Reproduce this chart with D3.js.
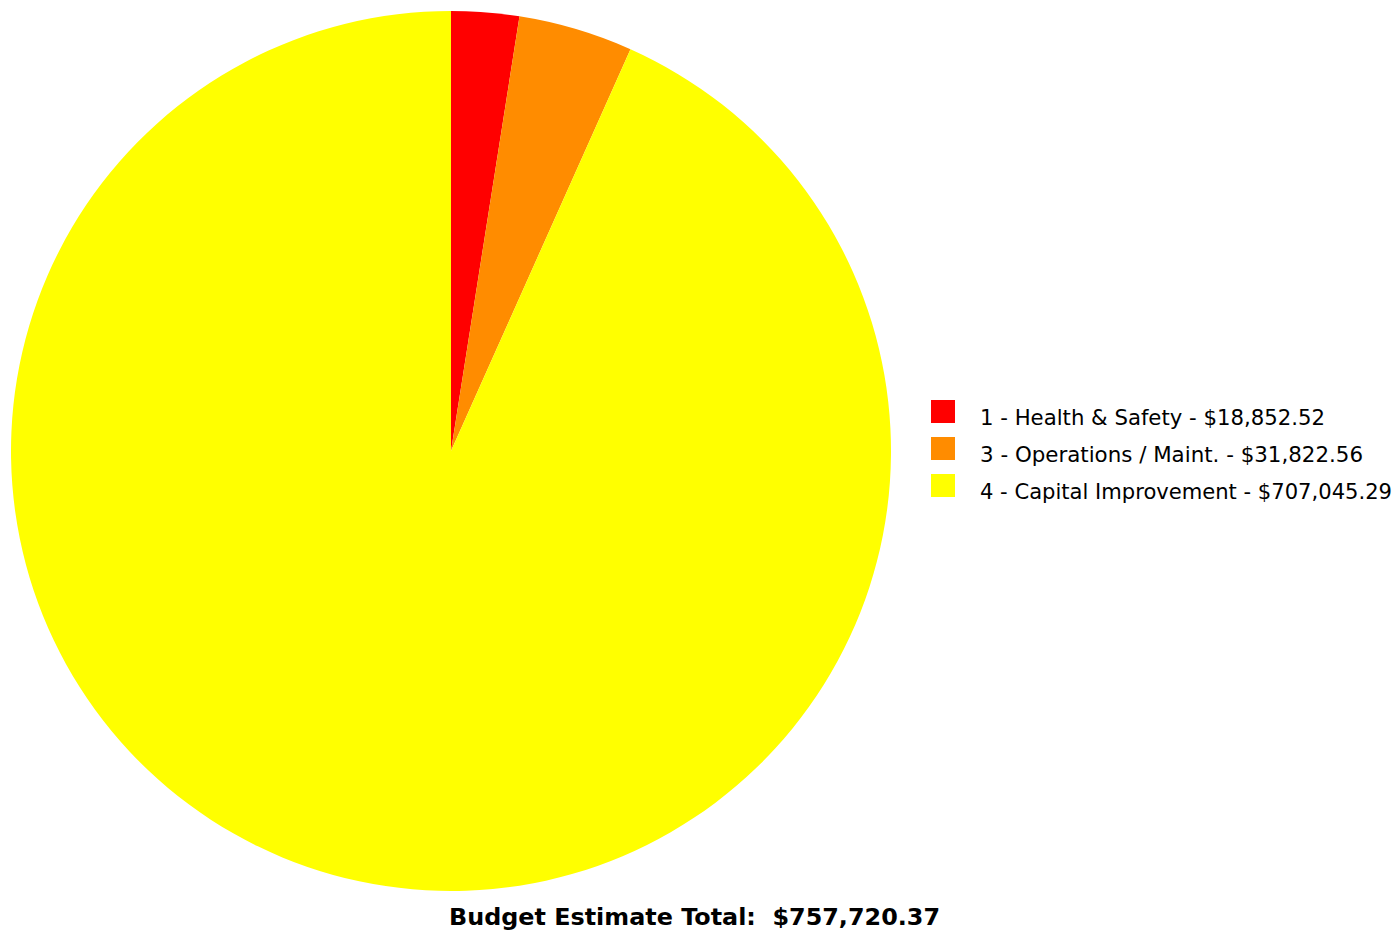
<!DOCTYPE html>
<html>
<head>
<meta charset="utf-8">
<script src="https://cdn.jsdelivr.net/npm/d3@7"></script>
<style>
  body { margin: 0; background: #fff; }
  text { font-family: "DejaVu Sans", Verdana, sans-serif; white-space: pre; }
</style>
</head>
<body>
<div id="chart"></div>
<script>
// Chart data
var categories = ["1 - Health & Safety", "3 - Operations / Maint.", "4 - Capital Improvement"];
var amounts = [18852.52, 31822.56, 707045.29];
var colors = ["#ff0000", "#ff8c00", "#ffff00"];
var totalLabel = "Budget Estimate Total:  $757,720.37";

var svgWidth = 1398;
var svgHeight = 931;

var svg = d3.select("#chart")
  .append("svg")
  .attr("width", svgWidth)
  .attr("height", svgHeight);

var fmt = d3.format(",.2f");

var data = categories.map(function(c, i) {
  return { name: c, value: amounts[i], color: colors[i] };
});

// Pie
var cx = 451, cy = 451, radius = 440;

var pie = d3.pie()
  .sort(null)
  .value(d => d.value);

var arc = d3.arc()
  .innerRadius(0)
  .outerRadius(radius);

var pieGroup = svg.append("g")
  .attr("transform", `translate(${cx}, ${cy})`);

pieGroup.selectAll("path")
  .data(pie(data))
  .enter()
  .append("path")
  .attr("d", arc)
  .attr("fill", d => d.data.color);

// Legend
var legend = svg.append("g")
  .attr("transform", "translate(931, 400)");

var rows = legend.selectAll("g")
  .data(data)
  .enter()
  .append("g")
  .attr("transform", (d, i) => `translate(0, ${i * 37})`);

rows.append("rect")
  .attr("width", 24)
  .attr("height", 23)
  .attr("fill", d => d.color);

var legendWidths = [345, 383, 412];

rows.append("text")
  .attr("x", 49)
  .attr("y", 25)
  .attr("font-size", "21px")
  .attr("fill", "#000")
  .attr("textLength", (d, i) => legendWidths[i])
  .attr("lengthAdjust", "spacingAndGlyphs")
  .text(d => `${d.name} - $${fmt(d.value)}`);

// Total
svg.append("text")
  .attr("x", 449)
  .attr("y", 925)
  .attr("font-size", "23px")
  .attr("font-weight", "bold")
  .attr("fill", "#000")
  .attr("textLength", 491)
  .attr("lengthAdjust", "spacingAndGlyphs")
  .text(totalLabel);
</script>
</body>
</html>
